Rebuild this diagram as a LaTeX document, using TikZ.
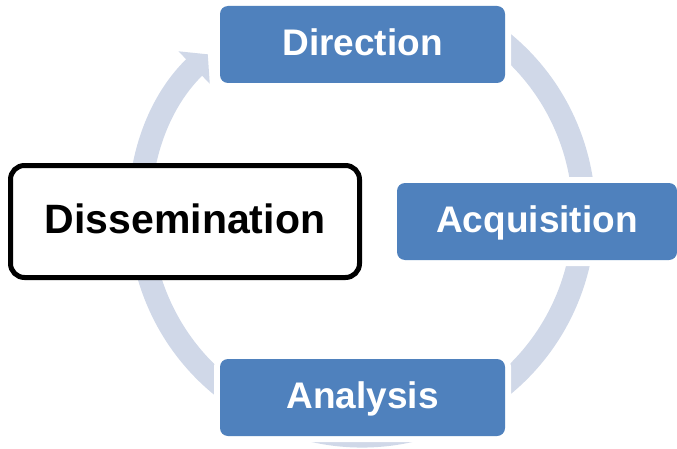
\documentclass[tikz,border=0pt]{standalone}
\usepackage{fontspec}
\setmainfont{Liberation Sans}
\usetikzlibrary{arrows.meta}
\definecolor{phaseblue}{RGB}{79,129,189}
\definecolor{ringgrey}{RGB}{208,216,232}
\begin{document}
\begin{tikzpicture}[x = 1pt, y = 1pt, every node/.style = {font = \bfseries\fontsize{37}{44}\selectfont, text height = 30pt, text depth = 7.5pt, inner sep = 0pt}, phase/.style = {rectangle, rounded corners = 8pt, fill = phaseblue, text = white, minimum width = 285pt, minimum height = 77pt, preaction = {draw = white, line width = 12pt}}, current/.style = {rectangle, rounded corners = 14pt, fill = white, draw = black, line width = 5pt, minimum width = 349pt, minimum height = 112pt, text height = 33pt, text depth = 8.1pt, font = \bfseries\fontsize{41}{48}\selectfont}, ring/.style = {draw = ringgrey, line width = 23pt, -{Triangle[length = 19pt, width = 44pt]}}]

  \useasboundingbox (0, 0) rectangle (677, 448);

  \coordinate (hub) at (362, 234);
  \draw[ring] ([shift = {(110:222)}]hub) arc[start angle = 110, end angle = -226, radius = 222];

  \node[phase] (direction) at (362.5, 403.5) { Direction };
  \node[phase, minimum width = 280pt] (acquisition) at (537, 226.5) { Acquisition };
  \node[phase] (analysis) at (362.5, 50.5) { Analysis };
  \node[current] (dissemination) at (185, 226.5) { Dissemination };

\end{tikzpicture}
\end{document}
